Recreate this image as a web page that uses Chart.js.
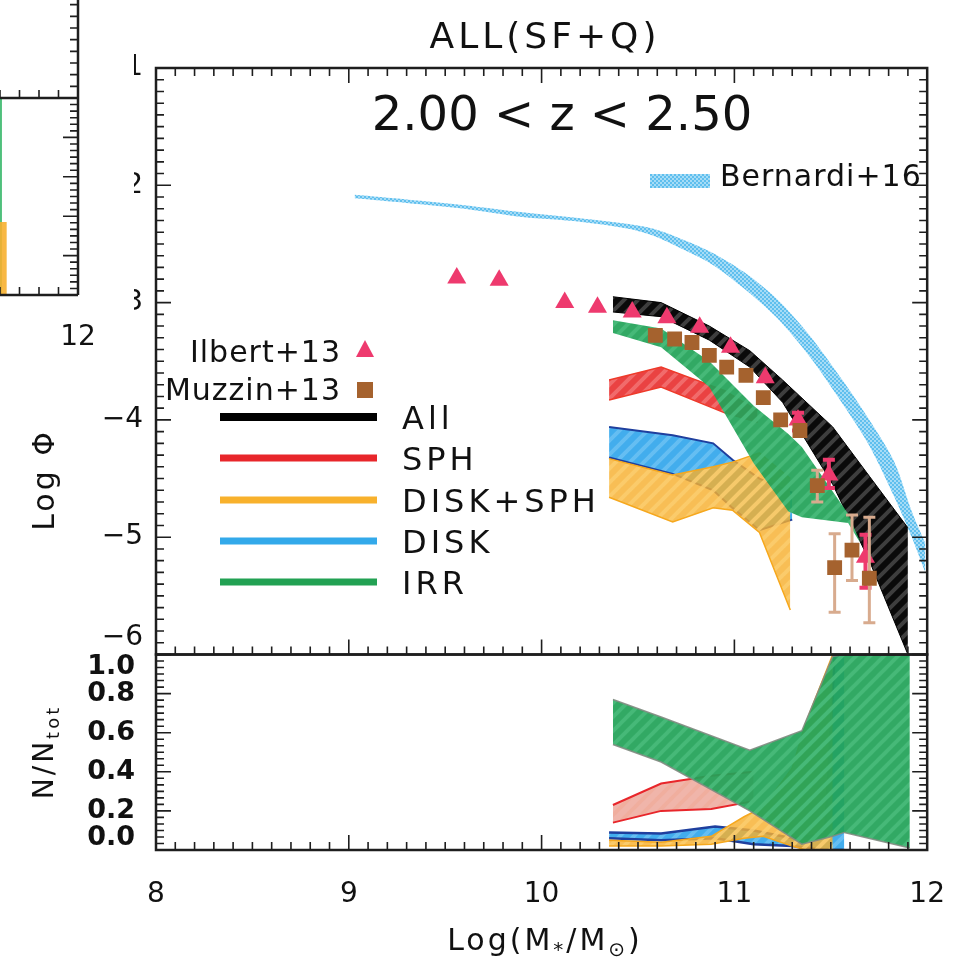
<!DOCTYPE html>
<html>
<head>
<meta charset="utf-8">
<script src="https://cdn.jsdelivr.net/npm/chart.js@4.4.0/dist/chart.umd.min.js"></script>
<style>
  html, body { margin: 0; padding: 0; background: #fff; }
  #wrap { position: relative; width: 965px; height: 960px; }
  #main { position: absolute; left: 0; top: 0; }
  #side { position: absolute; left: 0; top: 0; background: #fff; }
</style>
</head>
<body>
<div id="wrap">
  <canvas id="main" width="965" height="960"></canvas>
  <canvas id="side" width="134" height="370"></canvas>
</div>
<script>
const FONT = 'DejaVu Sans';

// axes
const xTicks = [8, 9, 10, 11, 12];
const xLabels = ['8', '9', '10', '11', '12'];
const phiTicks = [-6, -5, -4, -3, -2, -1];
const phiLabels = [['\u22126', ''], '\u22125', '\u22124', '\u22123', '\u22122', '\u22121'];
const fracTicks = [0, 0.2, 0.4, 0.6, 0.8, 1.0];
const fracLabels = [['0.0', ''], '0.2', '0.4', '0.6', '0.8', ['', '1.0']];

// Bernardi+16 band
const bernX  = [9.03, 9.3, 9.6, 9.9, 10.2, 10.45, 10.58, 10.7, 10.88, 11.05, 11.22, 11.39, 11.56, 11.70, 11.83, 11.92, 11.99];
const bernHi = [-2.08, -2.12, -2.17, -2.23, -2.28, -2.33, -2.37, -2.44, -2.57, -2.74, -2.97, -3.28, -3.66, -4.00, -4.36, -4.78, -5.05];
const bernLo = [-2.11, -2.15, -2.20, -2.27, -2.31, -2.37, -2.43, -2.52, -2.67, -2.88, -3.13, -3.46, -3.86, -4.22, -4.66, -5.00, -5.30];

// mass functions (log phi), upper / lower edges
const allX  = [10.37, 10.62, 10.87, 11.08, 11.25, 11.51, 11.70, 11.90];
const allHi = [-2.95, -3.00, -3.20, -3.41, -3.66, -4.06, -4.48, -4.92];
const allLo = [-3.08, -3.12, -3.32, -3.55, -3.85, -4.55, -5.20, -6.00];

const sphX  = [10.35, 10.62, 10.95, 11.12];
const sphHi = [-3.66, -3.55, -3.75, -3.92];
const sphLo = [-3.83, -3.72, -3.94, -4.02];

const dsX  = [10.35, 10.68, 10.89, 10.99, 11.13, 11.29];
const dsHi = [-4.33, -4.47, -4.40, -4.36, -4.28, -4.50];
const dsLo = [-4.66, -4.87, -4.75, -4.77, -4.96, -5.62];

const diskX  = [10.35, 10.68, 10.89, 10.99, 11.13, 11.30];
const diskHi = [-4.06, -4.13, -4.20, -4.34, -4.50, -4.62];
const diskLo = [-4.32, -4.46, -4.60, -4.75, -4.94, -4.85];

const irrX  = [10.37, 10.62, 10.87, 11.10, 11.28, 11.35, 11.59, 11.65];
const irrHi = [-3.15, -3.22, -3.50, -3.88, -4.12, -4.23, -4.80, -5.03];
const irrLo = [-3.26, -3.38, -3.72, -4.37, -4.78, -4.83, -4.88, -5.04];

// observations
const ilbertX  = [9.56, 9.78, 10.12, 10.29, 10.47, 10.65, 10.82, 10.98, 11.16, 11.33, 11.49, 11.68];
const ilbertY  = [-2.79, -2.81, -3.00, -3.04, -3.08, -3.13, -3.21, -3.38, -3.64, -4.00, -4.47, -5.17];
const ilbertLo = [null, null, null, null, null, null, null, null, null, -4.09, -4.58, -5.43];
const ilbertHi = [null, null, null, null, null, null, null, null, null, -3.94, -4.34, -4.98];

const muzzinX  = [10.59, 10.69, 10.78, 10.87, 10.96, 11.06, 11.15, 11.24, 11.34, 11.43, 11.52, 11.61, 11.70];
const muzzinY  = [-3.28, -3.31, -3.34, -3.45, -3.55, -3.62, -3.81, -4.00, -4.09, -4.56, -5.26, -5.11, -5.35];
const muzzinLo = [null, null, null, null, null, null, null, null, null, -4.70, -5.64, -5.37, -5.73];
const muzzinHi = [null, null, null, null, null, null, null, null, null, -4.43, -4.97, -4.81, -4.83];

// fractions N/Ntot
const fIrrX  = [10.37, 10.62, 11.08, 11.35, 11.51, 11.57, 11.91];
const fIrrHi = [0.77, 0.68, 0.51, 0.61, 0.99, 1.00, 1.00];
const fIrrLo = [0.54, 0.45, 0.20, 0.03, 0.07, 0.09, 0.01];

const fSphX  = [10.37, 10.62, 10.88, 11.10];
const fSphHi = [0.23, 0.34, 0.38, 0.40];
const fSphLo = [0.14, 0.20, 0.21, 0.25];

const fDiskX  = [10.35, 10.62, 10.90, 11.10, 11.30, 11.47, 11.52, 11.57];
const fDiskHi = [0.09, 0.085, 0.12, 0.10, 0.06, 0.08, 1.00, 1.00];
const fDiskLo = [0.06, 0.05, 0.06, 0.03, 0.02, 0.00, 0.00, 0.00];

const fDsX  = [10.35, 10.62, 10.88, 11.05, 11.15, 11.30, 11.37, 11.51];
const fDsHi = [0.05, 0.04, 0.07, 0.17, 0.22, 0.42, 0.65, 1.00];
const fDsLo = [0.02, 0.02, 0.03, 0.06, 0.07, 0.02, 0.00, 0.00];

// neighbouring panel (cropped, left edge)
const nbIrrX  = [11.55, 11.61];
const nbIrrHi = [1.0, 1.0];
const nbIrrLo = [0.0, 0.0];
const nbDsX  = [11.55, 11.635];
const nbDsHi = [0.37, 0.37];
const nbDsLo = [0.0, 0.0];

const legendNames = ['All', 'SPH', 'DISK+SPH', 'DISK', 'IRR'];
const legendColors = ['#000000', '#e8262b', '#f8b12c', '#33a9ea', '#22a153'];

const ctxMain = document.getElementById('main').getContext('2d');

function hatch(base, stripe, size, lw) {
  const c = document.createElement('canvas');
  c.width = c.height = size;
  const g = c.getContext('2d');
  g.fillStyle = base;
  g.fillRect(0, 0, size, size);
  g.strokeStyle = stripe;
  g.lineWidth = lw;
  g.beginPath();
  g.moveTo(-size / 2, size / 2); g.lineTo(size / 2, -size / 2);
  g.moveTo(0, size); g.lineTo(size, 0);
  g.moveTo(size / 2, size * 1.5); g.lineTo(size * 1.5, size / 2);
  g.stroke();
  return ctxMain.createPattern(c, 'repeat');
}

function dots(base, dot) {
  const c = document.createElement('canvas');
  c.width = c.height = 4;
  const g = c.getContext('2d');
  g.fillStyle = base;
  g.fillRect(0, 0, 4, 4);
  g.fillStyle = dot;
  g.fillRect(0, 0, 2, 2);
  g.fillRect(2, 2, 2, 2);
  return ctxMain.createPattern(c, 'repeat');
}

const bernFill = dots('#a6dcf6', '#5fbfee');
const allFill = hatch('#0a0a0a', '#3e3e3e', 14, 4);
const sphFill = hatch('rgba(232,50,50,0.92)', 'rgba(242,112,112,0.92)', 14, 4);
const dsFill = hatch('rgba(247,176,48,0.82)', 'rgba(251,206,112,0.82)', 14, 4);
const diskFill = hatch('rgba(50,166,236,0.92)', 'rgba(105,192,243,0.92)', 14, 4);
const irrFill = hatch('rgba(34,163,88,0.93)', 'rgba(72,186,122,0.93)', 14, 4);
const fSphFill = hatch('rgba(228,120,100,0.55)', 'rgba(240,170,150,0.55)', 14, 4);

function band(xs, hi, lo, axis, edge, edgeW, fill, order, tension) {
  const common = { yAxisID: axis, borderColor: edge, borderWidth: edgeW, pointRadius: 0, order: order, tension: tension || 0 };
  return [
    Object.assign({}, common, { data: xs.map((x, i) => ({ x: x, y: lo[i] })), fill: false }),
    Object.assign({}, common, { data: xs.map((x, i) => ({ x: x, y: hi[i] })), fill: '-1', backgroundColor: fill })
  ];
}

function tickVals(min, max, step) {
  const out = [];
  const i0 = Math.ceil(min / step - 1e-6), i1 = Math.floor(max / step + 1e-6);
  for (let i = i0; i <= i1; i++) out.push(i * step);
  return out;
}
function isMajor(v, m) { return Math.abs(v / m - Math.round(v / m)) < 1e-6; }

function panelTicks(ctx, xs, ys, L, R, opt) {
  const top = ys.top, bot = ys.bottom;
  ctx.beginPath();
  tickVals(ys.min, ys.max, opt.yStep).forEach(v => {
    const py = ys.getPixelForValue(v);
    const len = isMajor(v, opt.yMajor) ? 15 : 8;
    if (opt.left) { ctx.moveTo(L, py); ctx.lineTo(L + len, py); }
    if (opt.right) { ctx.moveTo(R, py); ctx.lineTo(R - len, py); }
  });
  tickVals(xs.min, xs.max, opt.xStep).forEach(v => {
    const px = xs.getPixelForValue(v);
    const len = isMajor(v, opt.xMajor) ? 15 : 8;
    if (opt.bottom) { ctx.moveTo(px, bot); ctx.lineTo(px, bot - len); }
    if (opt.top) { ctx.moveTo(px, top); ctx.lineTo(px, top + len); }
  });
  ctx.stroke();
}

const errorBars = {
  id: 'errorBars',
  beforeDatasetDraw(chart, args) {
    const ds = chart.data.datasets[args.index];
    if (!ds.errLo) return;
    const xs = chart.scales.x, ys = chart.scales[ds.yAxisID], ctx = chart.ctx;
    ctx.save();
    ctx.strokeStyle = ds.errColor;
    ctx.lineWidth = ds.errWidth;
    ctx.beginPath();
    ds.data.forEach((p, i) => {
      if (ds.errLo[i] == null) return;
      const px = xs.getPixelForValue(p.x);
      const y1 = ys.getPixelForValue(ds.errLo[i]), y2 = ys.getPixelForValue(ds.errHi[i]);
      ctx.moveTo(px, y1); ctx.lineTo(px, y2);
      ctx.moveTo(px - 6, y1); ctx.lineTo(px + 6, y1);
      ctx.moveTo(px - 6, y2); ctx.lineTo(px + 6, y2);
    });
    ctx.stroke();
    ctx.restore();
  }
};

const mainFrame = {
  id: 'mainFrame',
  afterDatasetsDraw(chart) {
    const ctx = chart.ctx, a = chart.chartArea, xs = chart.scales.x;
    ctx.save();
    ctx.strokeStyle = '#1e1e1e';
    ctx.lineWidth = 1.6;
    panelTicks(ctx, xs, chart.scales.y, a.left, a.right,
      { yStep: 0.1, yMajor: 1, xStep: 0.1, xMajor: 1, left: true, right: true, top: true, bottom: true });
    panelTicks(ctx, xs, chart.scales.y2, a.left, a.right,
      { yStep: 0.2 / 6, yMajor: 0.2, xStep: 0.1, xMajor: 1, left: true, right: true, top: false, bottom: true });
    ctx.lineWidth = 2.5;
    ['y', 'y2'].forEach(id => {
      const s = chart.scales[id];
      ctx.strokeRect(a.left, s.top, a.right - a.left, s.bottom - s.top);
    });
    ctx.restore();
  }
};

function spaced(ctx, px) { ctx.letterSpacing = px + 'px'; }

function drawPieces(ctx, pieces, cx, y) {
  let total = 0;
  pieces.forEach(p => { ctx.font = p[1] + 'px "' + FONT + '"'; total += ctx.measureText(p[0]).width; });
  let x = cx - total / 2;
  pieces.forEach(p => {
    ctx.font = p[1] + 'px "' + FONT + '"';
    ctx.fillText(p[0], x, y + p[2]);
    x += ctx.measureText(p[0]).width;
  });
}

const mainText = {
  id: 'mainText',
  afterDraw(chart) {
    const ctx = chart.ctx;
    ctx.save();
    ctx.fillStyle = '#111';
    ctx.textBaseline = 'alphabetic';

    // titles
    ctx.textAlign = 'center';
    spaced(ctx, 4);
    ctx.font = '36px "' + FONT + '"';
    ctx.fillText('ALL(SF+Q)', 545, 48);
    spaced(ctx, 0);
    ctx.font = '48px "' + FONT + '"';
    ctx.fillText('2.00 < z < 2.50', 562, 130);

    // x axis title
    ctx.textAlign = 'left';
    spaced(ctx, 3);
    drawPieces(ctx, [['Log(M', 30, 0], ['*', 20, 6], ['/M', 30, 0], ['\u2299', 20, 6], [')', 30, 0]], 545, 950);

    // y axis titles
    ctx.save();
    ctx.translate(46, 480);
    ctx.rotate(-Math.PI / 2);
    ctx.textAlign = 'center';
    ctx.textBaseline = 'middle';
    ctx.font = '30px "' + FONT + '"';
    ctx.fillText('Log \u03A6', 0, 0);
    ctx.restore();
    ctx.save();
    ctx.translate(46, 752);
    ctx.rotate(-Math.PI / 2);
    ctx.textAlign = 'left';
    ctx.textBaseline = 'middle';
    drawPieces(ctx, [['N/N', 28, 0], ['tot', 18, 8]], 0, 0);
    ctx.restore();

    // Bernardi legend
    ctx.fillStyle = bernFill;
    ctx.fillRect(650, 174, 60, 14);
    ctx.fillStyle = '#111';
    spaced(ctx, 1);
    ctx.font = '30px "' + FONT + '"';
    ctx.fillText('Bernardi+16', 720, 186);

    // observations legend
    ctx.textAlign = 'right';
    ctx.fillText('Ilbert+13', 341, 362);
    ctx.fillText('Muzzin+13', 341, 400);
    ctx.fillStyle = '#ee3a6e';
    ctx.beginPath();
    ctx.moveTo(365, 340); ctx.lineTo(374, 357); ctx.lineTo(356, 357); ctx.closePath();
    ctx.fill();
    ctx.fillStyle = '#a5622e';
    ctx.fillRect(357, 382, 16, 16);

    // model legend
    ctx.textAlign = 'left';
    spaced(ctx, 4);
    ctx.font = '32px "' + FONT + '"';
    const ys = [417, 458, 500, 541, 582];
    legendNames.forEach((name, i) => {
      ctx.strokeStyle = legendColors[i];
      ctx.lineWidth = i === 0 ? 8 : 7;
      ctx.beginPath();
      ctx.moveTo(220, ys[i]); ctx.lineTo(377, ys[i]);
      ctx.stroke();
      ctx.fillStyle = '#111';
      ctx.fillText(name, 402, ys[i] + 12);
    });
    spaced(ctx, 0);
    ctx.restore();
  }
};

const datasets = [
  { label: 'Muzzin+13', data: muzzinX.map((x, i) => ({ x: x, y: muzzinY[i] })), yAxisID: 'y', showLine: false,
    pointStyle: 'rect', pointRadius: 10.5, pointBackgroundColor: '#a5622e', pointBorderWidth: 0,
    errLo: muzzinLo, errHi: muzzinHi, errColor: '#d8ab8e', errWidth: 3, order: 0 },
  { label: 'Ilbert+13', data: ilbertX.map((x, i) => ({ x: x, y: ilbertY[i] })), yAxisID: 'y', showLine: false,
    pointStyle: 'triangle', pointRadius: 11, pointBackgroundColor: '#ee3a6e', pointBorderWidth: 0,
    errLo: ilbertLo, errHi: ilbertHi, errColor: '#ee3a6e', errWidth: 4, order: 1 },
  ...band(irrX, irrHi, irrLo, 'y', 'rgba(0,0,0,0)', 0, irrFill, 2),
  ...band(dsX, dsHi, dsLo, 'y', '#f6a81e', 1.5, dsFill, 3),
  ...band(diskX, diskHi, diskLo, 'y', '#1f3f9e', 2, diskFill, 4),
  ...band(sphX, sphHi, sphLo, 'y', '#ee3a2a', 1.5, sphFill, 5),
  ...band(allX, allHi, allLo, 'y', '#000', 1, allFill, 6),
  ...band(bernX, bernHi, bernLo, 'y', 'rgba(0,0,0,0)', 0, bernFill, 7, 0.3),
  ...band(fIrrX, fIrrHi, fIrrLo, 'y2', 'rgba(130,140,130,0.9)', 1.5, irrFill, 2),
  ...band(fDsX, fDsHi, fDsLo, 'y2', '#f6a81e', 1.5, dsFill, 3),
  ...band(fDiskX, fDiskHi, fDiskLo, 'y2', '#1f3f9e', 2.5, diskFill, 4),
  ...band(fSphX, fSphHi, fSphLo, 'y2', '#e8262b', 2, fSphFill, 5)
];

const hidden = { grid: { display: false }, border: { display: false } };

// boxes on a left stack are placed last-defined first, so the lower panel axis is listed first
new Chart(ctxMain, {
  type: 'line',
  data: { datasets: datasets },
  options: {
    responsive: false,
    animation: false,
    layout: { padding: { left: 0, top: 68, right: 29, bottom: 0 } },
    plugins: { legend: { display: false }, tooltip: { enabled: false } },
    scales: {
      x: Object.assign({
        type: 'linear', min: 8, max: 12,
        afterBuildTicks: s => { s.ticks = xTicks.map(v => ({ value: v })); },
        afterFit: s => { s.height = 110; },
        ticks: { autoSkip: false, maxRotation: 0, padding: 20, color: '#111',
                 font: { family: FONT, size: 28 }, callback: (v, i) => xLabels[i] }
      }, hidden),
      y2: Object.assign({
        type: 'linear', position: 'left', stack: 'panels', stackWeight: 1, min: 0, max: 1,
        afterBuildTicks: s => { s.ticks = fracTicks.map(v => ({ value: v })); },
        afterFit: s => { s.width = 156; },
        ticks: { autoSkip: false, padding: 13, color: '#111',
                 font: { family: FONT, size: 27, weight: 'bold', lineHeight: 0.9 }, callback: (v, i) => fracLabels[i] }
      }, hidden),
      y: Object.assign({
        type: 'linear', position: 'left', stack: 'panels', stackWeight: 3, min: -6, max: -1,
        afterBuildTicks: s => { s.ticks = phiTicks.map(v => ({ value: v })); },
        afterFit: s => { s.width = 156; },
        ticks: { autoSkip: false, padding: 5, color: '#111',
                 font: { family: FONT, size: 28 }, callback: (v, i) => phiLabels[i] }
      }, hidden)
    }
  },
  plugins: [errorBars, mainFrame, mainText]
});

// cropped neighbouring panel on the left
const sideFrame = {
  id: 'sideFrame',
  afterDatasetsDraw(chart) {
    const ctx = chart.ctx, a = chart.chartArea, xs = chart.scales.x;
    const yt = chart.scales.yt, yb = chart.scales.yb;
    ctx.save();
    ctx.strokeStyle = '#1e1e1e';
    ctx.lineWidth = 1.6;
    panelTicks(ctx, xs, yt, a.left, a.right, { yStep: 0.1, yMajor: 1, xStep: 0.1, xMajor: 1, right: true, bottom: true });
    panelTicks(ctx, xs, yb, a.left, a.right, { yStep: 0.2 / 6, yMajor: 0.2, xStep: 0.1, xMajor: 1, right: true, bottom: true });
    ctx.lineWidth = 2.5;
    ctx.beginPath();
    ctx.moveTo(a.left, yb.top); ctx.lineTo(a.right, yb.top);
    ctx.moveTo(a.left, yb.bottom); ctx.lineTo(a.right, yb.bottom);
    ctx.moveTo(a.right, yt.top); ctx.lineTo(a.right, yb.bottom);
    ctx.stroke();
    ctx.restore();
  }
};

new Chart(document.getElementById('side'), {
  type: 'line',
  data: {
    datasets: [
      ...band(nbIrrX, nbIrrHi, nbIrrLo, 'yb', 'rgba(0,0,0,0)', 0, 'rgba(60,185,110,0.9)', 1),
      ...band(nbDsX, nbDsHi, nbDsLo, 'yb', 'rgba(0,0,0,0)', 0, 'rgba(247,176,48,0.9)', 0)
    ]
  },
  options: {
    responsive: false,
    animation: false,
    layout: { padding: { left: 0, top: 0, right: 56, bottom: 0 } },
    plugins: { legend: { display: false }, tooltip: { enabled: false } },
    scales: {
      x: Object.assign({
        type: 'linear', min: 11.6, max: 12,
        afterBuildTicks: s => { s.ticks = [{ value: 12 }]; },
        afterFit: s => { s.height = 75; },
        ticks: { autoSkip: false, maxRotation: 0, padding: 18, color: '#111',
                 font: { family: FONT, size: 28 }, callback: () => '12' }
      }, hidden),
      yb: Object.assign({
        type: 'linear', position: 'left', stack: 'n', stackWeight: 197, min: 0, max: 1,
        afterFit: s => { s.width = 0; }, ticks: { display: false }
      }, hidden),
      yt: Object.assign({
        type: 'linear', position: 'left', stack: 'n', stackWeight: 98, min: -6, max: -5.16,
        afterFit: s => { s.width = 0; }, ticks: { display: false }
      }, hidden)
    }
  },
  plugins: [sideFrame]
});
</script>
</body>
</html>
